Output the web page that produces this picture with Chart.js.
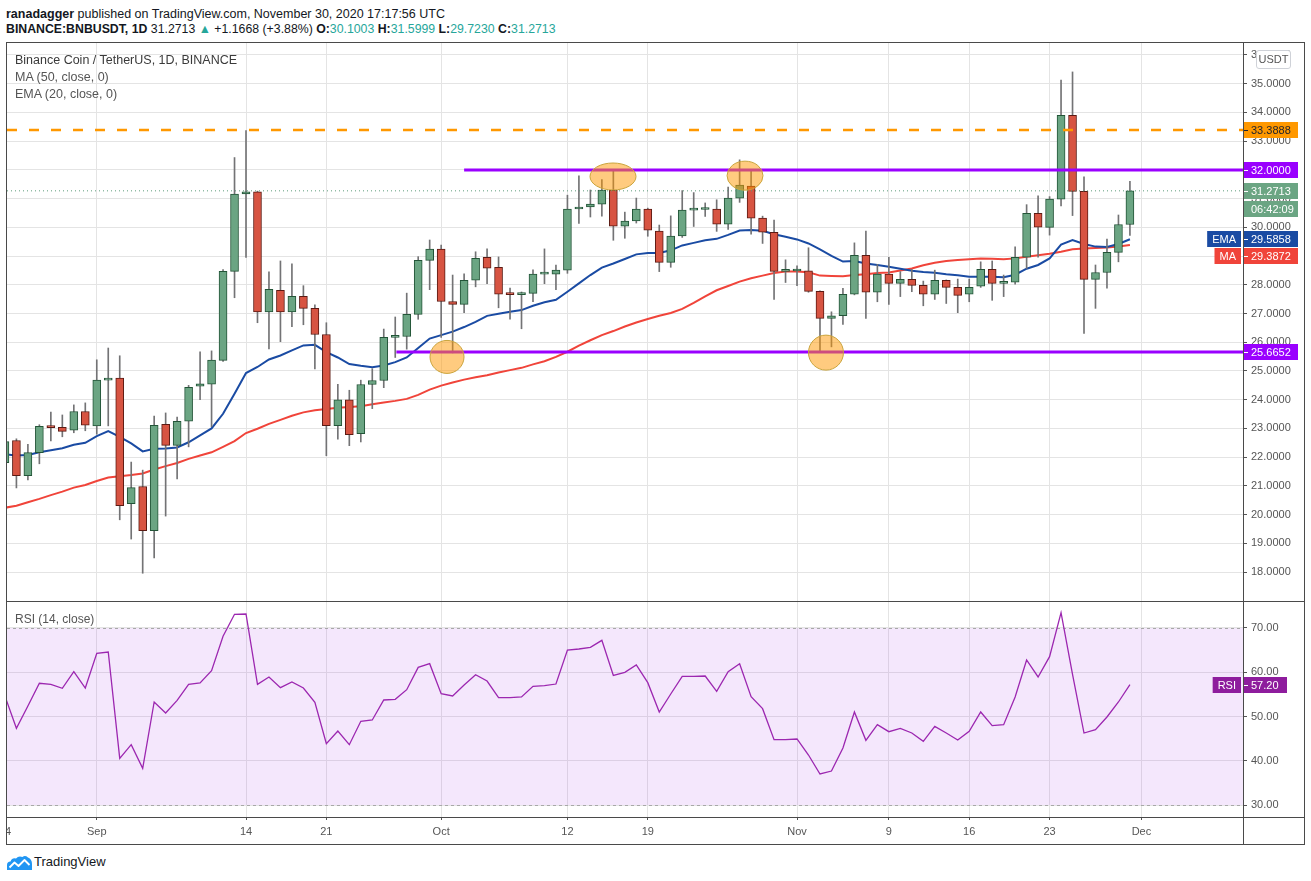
<!DOCTYPE html>
<html>
<head>
<meta charset="utf-8">
<script src="https://cdn.jsdelivr.net/npm/chart.js@4.4.0/dist/chart.umd.min.js"></script>
<style>
  html, body { margin: 0; padding: 0; background: #fff; }
  body { width: 1311px; height: 881px; position: relative; overflow: hidden;
         font-family: 'Liberation Sans', Arial, sans-serif; color: #131722; }
  canvas { position: absolute; }
  .frame { position: absolute; background: #4a4a4a; z-index: 3; }
  .txt { position: absolute; white-space: nowrap; z-index: 4; }
  .teal { color: #26a69a; }
</style>
</head>
<body>
<div class="txt" style="left:6px;top:6px;font-size:12.5px;line-height:16px"><b>ranadagger</b> published on TradingView.com, November 30, 2020 17:17:56 UTC</div>
<div class="txt" style="left:6px;top:21px;font-size:12.3px;line-height:16px"><b>BINANCE:BNBUSDT, 1D</b> 31.2713 <span class="teal">▲</span> +1.1668 (+3.88%) <b>O:</b><span class="teal">30.1003</span> <b>H:</b><span class="teal">31.5999</span> <b>L:</b><span class="teal">29.7230</span> <b>C:</b><span class="teal">31.2713</span></div>

<canvas id="priceCanvas" width="1298" height="558" style="left:7px;top:43px;width:1298px;height:558px"></canvas>
<canvas id="rsiCanvas" width="1298" height="243" style="left:7px;top:601px;width:1298px;height:243px"></canvas>

<div class="frame" style="left:6px;top:42px;width:1299px;height:1px"></div>
<div class="frame" style="left:6px;top:844px;width:1299px;height:1px"></div>
<div class="frame" style="left:6px;top:42px;width:1px;height:803px"></div>
<div class="frame" style="left:1304px;top:42px;width:1px;height:803px"></div>
<div class="frame" style="left:1243px;top:42px;width:1px;height:803px"></div>
<div class="frame" style="left:6px;top:601px;width:1299px;height:1px"></div>
<div class="frame" style="left:6px;top:817px;width:1299px;height:1px"></div>

<div class="txt" style="left:15px;top:52px;font-size:12.5px;line-height:17px;color:#3a3a3a">Binance Coin / TetherUS, 1D, BINANCE</div>
<div class="txt" style="left:15px;top:69px;font-size:12.5px;line-height:17px;color:#555">MA (50, close, 0)</div>
<div class="txt" style="left:15px;top:86px;font-size:12.5px;line-height:17px;color:#555">EMA (20, close, 0)</div>
<div class="txt" style="left:15px;top:611px;font-size:12px;line-height:16px;color:#555">RSI (14, close)</div>
<div class="txt" style="left:1256px;top:50px;width:33px;height:17px;border:1px solid #cfd2d8;border-radius:3px;background:#fff;font-size:11px;line-height:17px;text-align:center;color:#555">USDT</div>

<svg class="txt" style="left:6px;top:855px" width="27" height="16" viewBox="0 0 27 16">
  <path d="M1 15 L1 10 Q1 6.5 4.5 6.5 Q6 2.5 10 3.5 Q12.5 0.5 16.5 2 Q19 0 22 2.5 Q26 4 26 9 L26 15 Z" fill="#2196f3"/>
  <polyline points="3.5,12.5 8.5,7.5 12.5,11 18.5,5 23.5,10" fill="none" stroke="#fff" stroke-width="1.8" stroke-linejoin="round"/>
</svg>
<div class="txt" style="left:34px;top:854px;font-size:13px;line-height:16px;color:#131722">TradingView</div>

<script>
// daily candles, index 0 = 24 Aug 2020, last = 30 Nov 2020
const openP = [
  21.81, 22.58, 21.36, 22.16, 23.08, 23.04, 22.94, 23.59, 23.09, 24.68,
  24.75, 20.38, 20.98, 19.44, 23.14, 22.41, 23.25, 24.47, 24.54, 25.37,
  28.47, 31.16, 31.24, 27.06, 27.81, 27.06, 27.60, 27.18, 26.27, 23.10,
  24.00, 22.82, 24.53, 24.67, 26.17, 26.20, 26.97, 28.85, 29.24, 27.42,
  27.32, 28.16, 28.96, 28.61, 27.69, 27.66, 27.70, 28.37, 28.37, 28.51,
  30.64, 30.71, 30.81, 31.30, 30.04, 30.22, 30.64, 29.87, 28.78, 29.70,
  30.60, 30.62, 30.64, 30.11, 31.02, 31.44, 30.32, 29.83, 28.47, 28.48,
  28.49, 27.77, 26.83, 26.93, 27.67, 29.03, 27.74, 28.37, 28.05, 28.19,
  27.98, 27.67, 28.16, 27.91, 27.67, 27.95, 28.54, 28.05, 28.09, 28.96,
  30.49, 30.00, 30.98, 33.90, 31.25, 28.19, 28.43, 29.13, 30.1003
];
const highP = [
  22.85, 22.64, 22.45, 23.13, 23.57, 23.47, 23.82, 23.89, 25.39, 25.80,
  25.53, 21.83, 21.55, 23.43, 23.54, 23.40, 24.50, 25.67, 25.70, 28.53,
  32.43, 33.37, 31.26, 28.45, 28.83, 28.73, 27.97, 27.30, 26.68, 24.54,
  24.33, 24.68, 25.08, 26.46, 26.88, 27.71, 28.98, 29.56, 29.38, 28.34,
  28.38, 29.15, 29.25, 28.97, 27.89, 27.75, 28.52, 29.25, 28.69, 31.12,
  31.79, 31.30, 31.66, 31.96, 30.53, 31.02, 30.67, 30.08, 30.40, 31.28,
  31.21, 30.85, 30.96, 31.40, 32.35, 31.95, 30.39, 30.25, 28.87, 28.66,
  29.29, 27.79, 27.06, 27.88, 29.46, 29.87, 28.71, 28.96, 28.46, 28.54,
  28.13, 28.51, 28.17, 28.20, 28.20, 28.80, 28.83, 28.34, 29.32, 30.79,
  31.10, 31.07, 35.13, 35.41, 31.76, 28.69, 29.59, 30.43, 31.5999
];
const lowP = [
  21.55, 20.93, 21.21, 21.77, 22.57, 22.71, 22.85, 22.92, 22.80, 23.09,
  19.82, 19.15, 17.96, 18.49, 19.95, 21.24, 22.36, 24.00, 23.06, 25.33,
  27.55, 28.95, 26.68, 25.77, 26.02, 26.54, 26.61, 25.07, 22.05, 22.63,
  22.40, 22.53, 23.69, 24.42, 25.47, 25.76, 26.80, 27.83, 26.17, 25.63,
  27.03, 27.93, 28.04, 27.20, 26.80, 26.47, 27.41, 28.04, 27.83, 28.40,
  30.14, 30.36, 30.39, 29.55, 29.62, 30.15, 29.69, 28.46, 28.61, 29.65,
  30.03, 30.38, 29.86, 29.93, 30.87, 29.76, 29.44, 27.49, 28.08, 27.97,
  27.74, 25.69, 25.84, 26.62, 27.65, 26.83, 27.41, 27.32, 27.59, 27.76,
  27.27, 27.49, 27.35, 27.03, 27.41, 27.91, 27.46, 27.59, 28.02, 28.57,
  28.96, 29.73, 30.75, 30.41, 26.31, 27.18, 27.88, 28.80, 29.7230
];
const closeP = [
  22.54, 21.36, 22.16, 23.07, 23.03, 22.90, 23.59, 23.11, 24.68, 24.74,
  20.31, 20.94, 19.44, 23.11, 22.41, 23.25, 24.43, 24.55, 25.38, 28.47,
  31.16, 31.24, 27.06, 27.84, 27.06, 27.60, 27.18, 26.27, 23.10, 24.00,
  22.78, 24.53, 24.67, 26.17, 26.19, 26.97, 28.85, 29.24, 27.42, 27.32,
  28.16, 28.92, 28.58, 27.67, 27.66, 27.71, 28.37, 28.41, 28.51, 30.64,
  30.71, 30.81, 31.30, 30.04, 30.22, 30.64, 29.90, 28.78, 29.70, 30.60,
  30.62, 30.66, 30.11, 31.02, 31.47, 30.32, 29.83, 28.47, 28.48, 28.51,
  27.77, 26.83, 26.92, 27.67, 29.03, 27.74, 28.37, 28.05, 28.19, 27.98,
  27.67, 28.16, 27.91, 27.63, 27.91, 28.54, 28.05, 28.12, 28.96, 30.49,
  30.01, 30.98, 33.90, 31.25, 28.19, 28.43, 29.13, 30.10, 31.2713
];
// indicator values
const ema20 = [
  22.10, 22.06, 22.08, 22.17, 22.24, 22.31, 22.43, 22.50, 22.73, 22.91,
  22.71, 22.48, 22.20, 22.29, 22.30, 22.34, 22.52, 22.76, 23.00, 23.51,
  24.21, 24.93, 25.14, 25.40, 25.54, 25.72, 25.89, 25.91, 25.66, 25.47,
  25.24, 25.18, 25.13, 25.19, 25.31, 25.47, 25.80, 26.13, 26.25, 26.37,
  26.53, 26.71, 26.92, 26.99, 27.06, 27.12, 27.27, 27.39, 27.48, 27.76,
  28.05, 28.34, 28.60, 28.74, 28.90, 29.06, 29.11, 29.11, 29.20, 29.37,
  29.46, 29.55, 29.60, 29.74, 29.89, 29.91, 29.88, 29.76, 29.67, 29.58,
  29.44, 29.23, 29.01, 28.81, 28.83, 28.74, 28.69, 28.63, 28.56, 28.49,
  28.45, 28.42, 28.37, 28.33, 28.28, 28.28, 28.28, 28.26, 28.35, 28.56,
  28.69, 28.92, 29.40, 29.56, 29.42, 29.33, 29.32, 29.42, 29.5858
];
const ma50 = [
  20.24, 20.31, 20.43, 20.55, 20.68, 20.80, 20.94, 21.03, 21.17, 21.29,
  21.34, 21.38, 21.43, 21.57, 21.69, 21.80, 21.94, 22.06, 22.17, 22.36,
  22.56, 22.84, 22.99, 23.16, 23.30, 23.44, 23.56, 23.63, 23.68, 23.72,
  23.75, 23.77, 23.84, 23.90, 23.96, 24.03, 24.17, 24.35, 24.49, 24.60,
  24.70, 24.78, 24.85, 24.95, 25.03, 25.11, 25.23, 25.34, 25.49, 25.67,
  25.88, 26.07, 26.25, 26.39, 26.55, 26.69, 26.81, 26.92, 27.02, 27.16,
  27.37, 27.60, 27.81, 27.96, 28.11, 28.23, 28.32, 28.41, 28.46, 28.46,
  28.44, 28.32, 28.31, 28.30, 28.34, 28.37, 28.41, 28.43, 28.50, 28.57,
  28.68, 28.77, 28.83, 28.86, 28.89, 28.92, 28.91, 28.89, 28.92, 28.98,
  29.03, 29.08, 29.15, 29.24, 29.26, 29.28, 29.30, 29.33, 29.3872
];
const rsi14 = [
  54.63, 47.33, 52.37, 57.50, 57.27, 56.37, 60.13, 56.44, 64.27, 64.58,
  40.55, 43.63, 38.29, 53.28, 50.79, 53.65, 57.27, 57.57, 60.36, 68.12,
  73.09, 73.16, 57.27, 58.93, 56.52, 57.80, 56.44, 53.20, 43.86, 46.72,
  43.63, 48.91, 49.21, 53.73, 53.88, 56.06, 61.11, 61.94, 55.16, 54.63,
  57.12, 59.45, 58.02, 54.26, 54.26, 54.41, 56.82, 56.97, 57.34, 65.03,
  65.25, 65.63, 67.21, 59.30, 59.98, 61.64, 57.65, 51.02, 55.08, 59.08,
  59.08, 59.15, 55.69, 60.13, 61.94, 54.48, 51.77, 44.76, 44.76, 44.92,
  41.30, 37.01, 37.68, 42.88, 51.02, 44.61, 48.15, 46.57, 47.33, 46.27,
  44.39, 47.78, 46.27, 44.69, 46.65, 51.02, 47.93, 48.15, 54.41, 62.77,
  58.93, 63.52, 73.47, 59.53, 46.27, 47.02, 49.89, 53.28, 57.20
];

// axes
const xMin = 0.18, xMax = 107.85;
const priceMin = 16.994, priceMax = 36.417;
const rsiMin = 27.29, rsiMax = 76.10;
const priceTicks = [18, 19, 20, 21, 22, 23, 24, 25, 26, 27, 28, 29, 30, 31, 32, 33, 34, 35, 36];
const rsiTicks = [30, 40, 50, 60, 70];
const rsiBand = [30, 70];
const tickDays = [0, 8, 21, 28, 38, 49, 56, 69, 77, 84, 91, 99];
const tickLabels = ['24', 'Sep', '14', '21', 'Oct', '12', '19', 'Nov', '9', '16', '23', 'Dec'];

// drawings on the chart
const levelPrices = [32.0, 25.6652];
const levelStart = [40.0, 34.1];
const alertPrice = 33.3888;
const markDay = [52.97, 64.47, 38.51, 71.52];
const markPrice = [31.77, 31.80, 25.49, 25.64];
const markRadius = [[23, 13.5], [18, 14.5], [17, 16.5], [17.5, 17.5]];
const countdown = '06:42:09';

const UP = '#6ba583', DOWN = '#d75442', UP_EDGE = '#225437', DOWN_EDGE = '#5b1a13';
const WICK = '#737375', GRID = '#e4e4e4', AXIS_TXT = '#555';
const PURPLE = '#9a00ff', ORANGE = '#ff9800', EMA_C = '#1a4ba3', MA_C = '#f0443a', RSI_C = '#9c27b0';
const FONT = "'Liberation Sans', Arial, sans-serif";

Chart.defaults.font.family = FONT;

const last = closeP.length - 1;
const pts = arr => arr.map((v, i) => ({ x: i, y: v }));
const span = (from, v) => [{ x: from, y: v }, { x: xMax, y: v }];
const rising = closeP.map((c, i) => c >= openP[i]);

function drawTags(chart, tags, width) {
  const { ctx, chartArea } = chart;
  const y = chart.scales.y;
  const left = chartArea.right;
  const h = 16;
  const items = tags.map(t => Object.assign({}, t, { py: y.getPixelForValue(t.value) }))
    .sort((a, b) => a.py - b.py);
  let bottom = -Infinity;
  items.forEach(t => {
    if (t.py - h / 2 < bottom + 1) t.py = bottom + 1 + h / 2;
    bottom = t.py + h / 2 + (t.sub ? h + 2 : 0);
  });
  ctx.save();
  ctx.font = '11px ' + FONT;
  ctx.textBaseline = 'middle';
  items.forEach(t => {
    const py = Math.round(t.py);
    ctx.fillStyle = t.bg;
    ctx.fillRect(left, py - h / 2, width, h);
    ctx.fillStyle = t.fg;
    ctx.fillRect(left + 1, py, 4, 1);
    ctx.textAlign = 'left';
    ctx.fillText(t.value.toFixed(t.digits), left + 8, py + 0.5);
    if (t.sub) {
      ctx.fillStyle = t.bg;
      ctx.fillRect(left, py + h / 2 + 2, width, h);
      ctx.fillStyle = t.fg;
      ctx.fillText(t.sub, left + 8, py + h + 2.5);
    }
    if (t.name) {
      const w = ctx.measureText(t.name).width + 10;
      ctx.fillStyle = t.bg;
      ctx.fillRect(left - 2 - w, py - h / 2, w, h);
      ctx.fillStyle = t.fg;
      ctx.textAlign = 'center';
      ctx.fillText(t.name, left - 2 - w / 2, py + 0.5);
    }
  });
  ctx.restore();
}

const priceOverlay = {
  id: 'priceOverlay',
  afterDatasetsDraw(chart) {
    const { ctx } = chart;
    const { x, y } = chart.scales;
    ctx.save();
    markDay.forEach((d, k) => {
      ctx.beginPath();
      ctx.ellipse(x.getPixelForValue(d), y.getPixelForValue(markPrice[k]),
        markRadius[k][0], markRadius[k][1], 0, 0, Math.PI * 2);
      ctx.fillStyle = 'rgba(255,152,0,0.5)';
      ctx.fill();
      ctx.lineWidth = 1;
      ctx.strokeStyle = '#c9a43c';
      ctx.stroke();
    });
    ctx.restore();
  },
  afterDraw(chart) {
    drawTags(chart, [
      { value: alertPrice, digits: 4, bg: ORANGE, fg: '#1e222d' },
      { value: levelPrices[0], digits: 4, bg: PURPLE, fg: '#fff' },
      { value: closeP[last], digits: 4, bg: UP, fg: '#fff', sub: countdown },
      { value: ema20[last], digits: 4, bg: EMA_C, fg: '#fff', name: 'EMA' },
      { value: ma50[last], digits: 4, bg: MA_C, fg: '#fff', name: 'MA' },
      { value: levelPrices[1], digits: 4, bg: PURPLE, fg: '#fff' }
    ], 55);
  }
};

const rsiOverlay = {
  id: 'rsiOverlay',
  beforeDatasetsDraw(chart) {
    const { ctx, chartArea: a } = chart;
    const y = chart.scales.y;
    const top = y.getPixelForValue(rsiBand[1]);
    const bot = y.getPixelForValue(rsiBand[0]);
    ctx.save();
    ctx.fillStyle = 'rgba(155,38,230,0.11)';
    ctx.fillRect(a.left, top, a.right - a.left, bot - top);
    ctx.strokeStyle = '#a8a8a8';
    ctx.lineWidth = 1;
    ctx.setLineDash([3, 3]);
    [top, bot].forEach(p => {
      ctx.beginPath();
      ctx.moveTo(a.left, Math.round(p) + 0.5);
      ctx.lineTo(a.right, Math.round(p) + 0.5);
      ctx.stroke();
    });
    ctx.restore();
  },
  afterDraw(chart) {
    drawTags(chart, [
      { value: rsi14[last], digits: 2, bg: '#8e1d9d', fg: '#fff', name: 'RSI' }
    ], 44);
  }
};

const timeAxis = (showLabels) => ({
  type: 'linear', min: xMin, max: xMax, bounds: 'data', offset: false,
  afterBuildTicks: s => { s.ticks = tickDays.map(v => ({ value: v })); },
  ticks: showLabels
    ? { autoSkip: false, maxRotation: 0, color: AXIS_TXT, font: { size: 11 }, padding: 5,
        callback: (v, i) => tickLabels[i] }
    : { display: false },
  grid: showLabels
    ? { color: GRID, tickLength: 3, tickColor: '#555', offset: false }
    : { color: GRID, drawTicks: false, offset: false },
  border: { display: false },
  afterFit: s => { s.height = showLabels ? 27 : 0; s.paddingLeft = 0; s.paddingRight = 0; }
});

const valueAxis = (min, max, ticks, digits) => ({
  type: 'linear', position: 'right', min: min, max: max, bounds: 'data', beginAtZero: false,
  afterBuildTicks: s => { s.ticks = ticks.map(v => ({ value: v })); },
  ticks: { autoSkip: false, color: AXIS_TXT, font: { size: 11 }, padding: 4,
           callback: v => Number(v).toFixed(digits) },
  grid: { color: GRID, tickLength: 4, tickColor: '#555' },
  border: { display: false },
  afterFit: s => { s.width = 62; s.paddingTop = 0; s.paddingBottom = 0; }
});

const baseOptions = {
  animation: false,
  responsive: false,
  maintainAspectRatio: false,
  devicePixelRatio: 1,
  events: [],
  layout: { padding: 0, autoPadding: false },
  plugins: { legend: { display: false }, tooltip: { enabled: false } }
};

new Chart(document.getElementById('priceCanvas'), {
  type: 'bar',
  data: {
    datasets: [
      { type: 'line', data: span(levelStart[0], levelPrices[0]), borderColor: PURPLE, borderWidth: 3, pointRadius: 0, order: 1 },
      { type: 'line', data: span(levelStart[1], levelPrices[1]), borderColor: PURPLE, borderWidth: 3, pointRadius: 0, order: 1 },
      { type: 'line', data: span(xMin, alertPrice), borderColor: ORANGE, borderWidth: 2.5, borderDash: [10, 12], pointRadius: 0, order: 1 },
      { type: 'line', data: span(xMin, closeP[last]), borderColor: '#5d9b7b', borderWidth: 1, borderDash: [1, 3], pointRadius: 0, order: 1 },
      {
        type: 'bar',
        data: closeP.map((c, i) => ({ x: i, y: [openP[i], c] })),
        backgroundColor: rising.map(r => r ? UP : DOWN),
        borderColor: rising.map(r => r ? UP_EDGE : DOWN_EDGE),
        borderWidth: 1, borderSkipped: false,
        barThickness: 8, minBarLength: 2, grouped: false, order: 2
      },
      {
        type: 'bar',
        data: lowP.map((l, i) => ({ x: i, y: [l, highP[i]] })),
        backgroundColor: WICK, borderWidth: 0,
        barThickness: 1, grouped: false, order: 3
      },
      { type: 'line', data: pts(ema20), borderColor: EMA_C, borderWidth: 2, pointRadius: 0, order: 4 },
      { type: 'line', data: pts(ma50), borderColor: MA_C, borderWidth: 2, pointRadius: 0, order: 5 }
    ]
  },
  options: Object.assign({}, baseOptions, {
    scales: {
      x: timeAxis(false),
      y: valueAxis(priceMin, priceMax, priceTicks, 4)
    }
  }),
  plugins: [priceOverlay]
});

new Chart(document.getElementById('rsiCanvas'), {
  type: 'line',
  data: {
    datasets: [
      { data: pts(rsi14), borderColor: RSI_C, borderWidth: 1.3, pointRadius: 0 }
    ]
  },
  options: Object.assign({}, baseOptions, {
    scales: {
      x: timeAxis(true),
      y: valueAxis(rsiMin, rsiMax, rsiTicks, 2)
    }
  }),
  plugins: [rsiOverlay]
});
</script>
</body>
</html>
